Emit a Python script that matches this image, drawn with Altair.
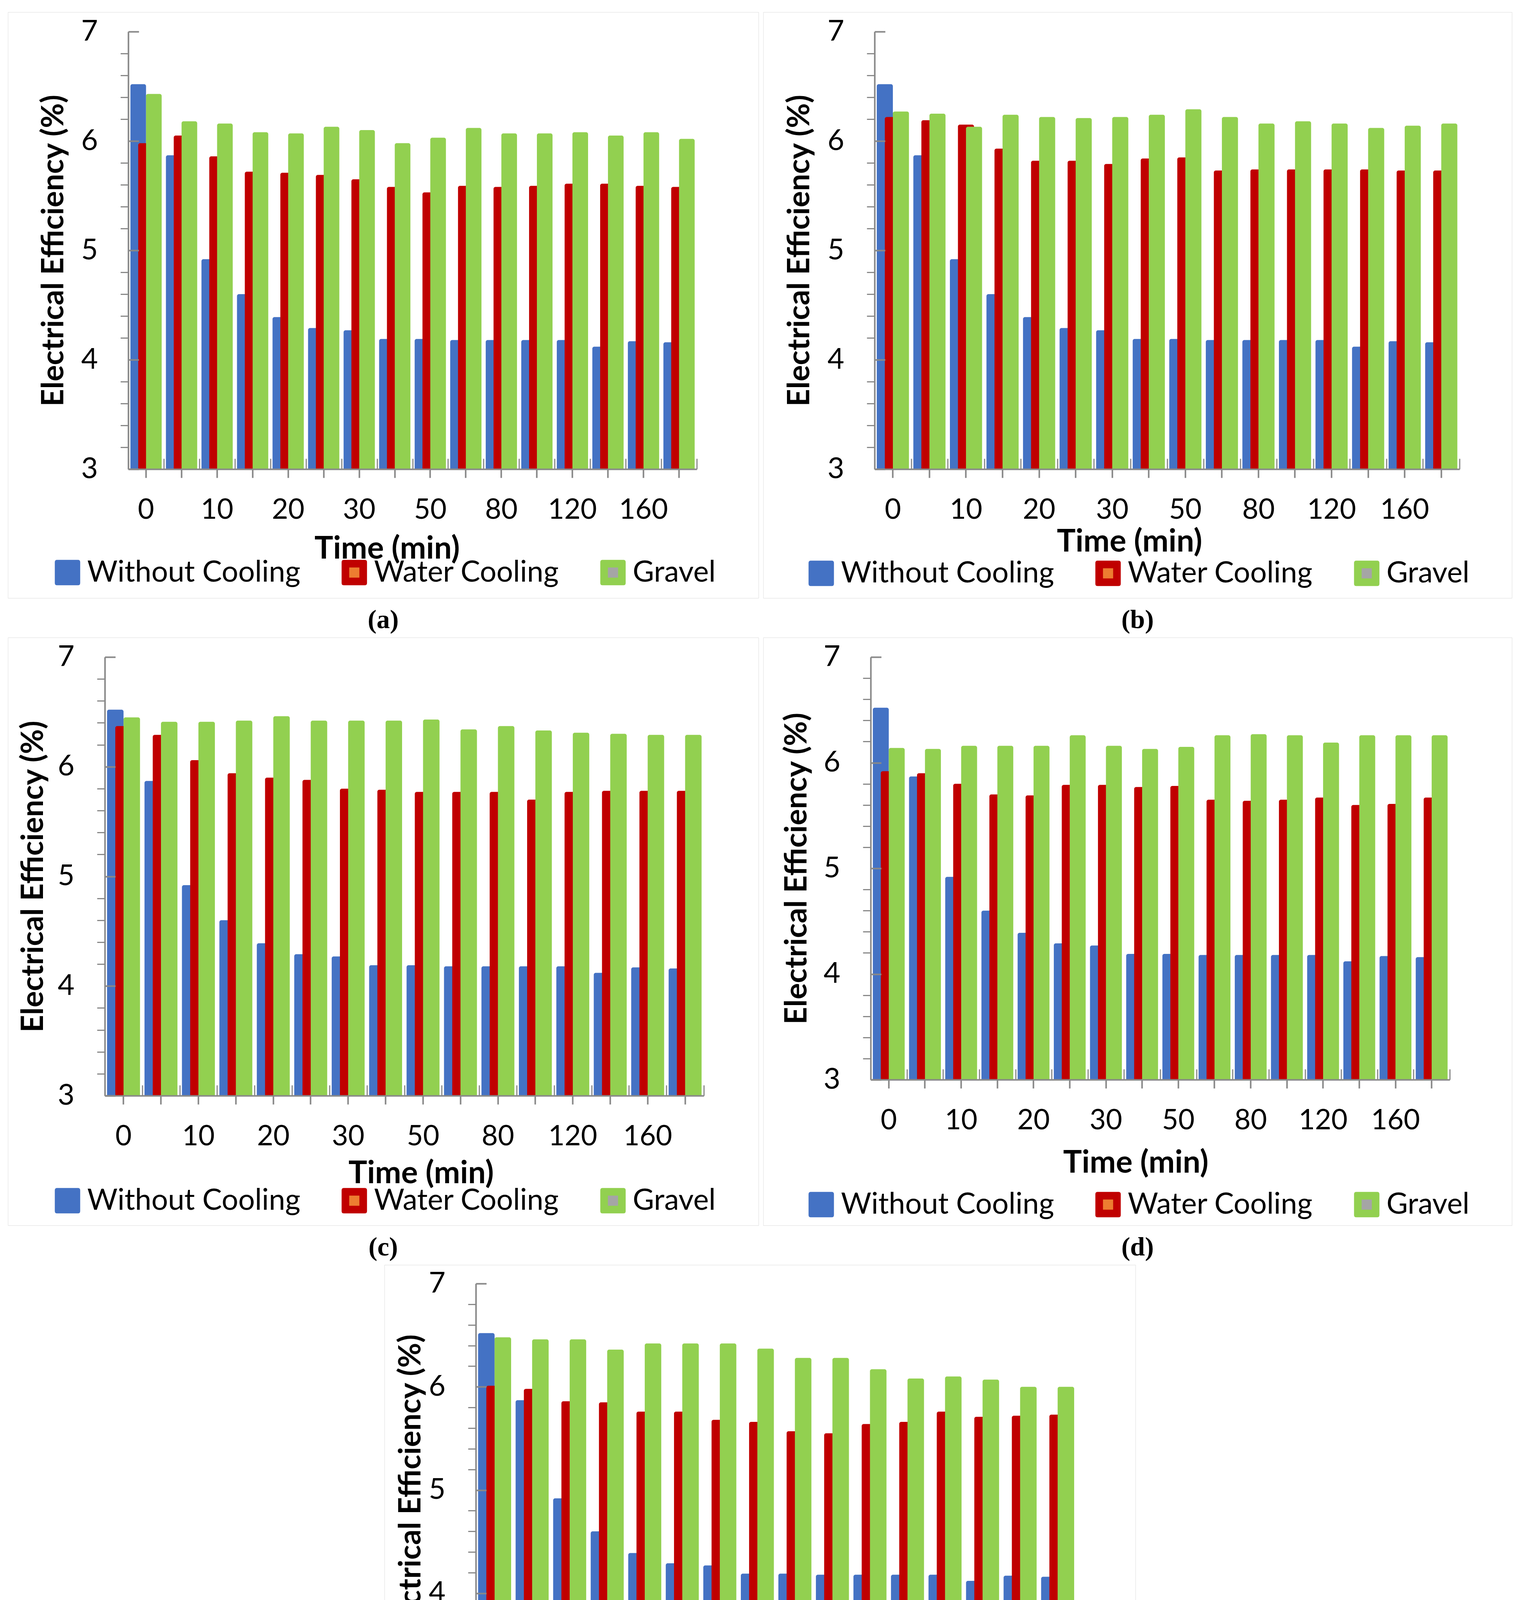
import altair as alt
import pandas as pd

# ---------------- data ----------------
times = ["0", "5", "10", "15", "20", "25", "30", "40", "50", "60", "80", "100", "120", "140", "160", "180"]
shown_labels = ["0", "10", "20", "30", "50", "80", "120", "160"]
series = ["Without Cooling", "Water Cooling", "Gravel"]

without_cooling = [6.52, 5.87, 4.92, 4.60, 4.39, 4.29, 4.27, 4.19, 4.19, 4.18, 4.18, 4.18, 4.18, 4.12, 4.17, 4.16]

water_a = [5.98, 6.05, 5.86, 5.72, 5.71, 5.69, 5.65, 5.58, 5.53, 5.59, 5.58, 5.59, 5.61, 5.61, 5.59, 5.58]
gravel_a = [6.43, 6.18, 6.16, 6.08, 6.07, 6.13, 6.10, 5.98, 6.03, 6.12, 6.07, 6.07, 6.08, 6.05, 6.08, 6.02]

water_b = [6.22, 6.19, 6.15, 5.93, 5.82, 5.82, 5.79, 5.84, 5.85, 5.73, 5.74, 5.74, 5.74, 5.74, 5.73, 5.73]
gravel_b = [6.27, 6.25, 6.13, 6.24, 6.22, 6.21, 6.22, 6.24, 6.29, 6.22, 6.16, 6.18, 6.16, 6.12, 6.14, 6.16]

water_c = [6.37, 6.29, 6.06, 5.94, 5.90, 5.88, 5.80, 5.79, 5.77, 5.77, 5.77, 5.70, 5.77, 5.78, 5.78, 5.78]
gravel_c = [6.45, 6.41, 6.41, 6.42, 6.46, 6.42, 6.42, 6.42, 6.43, 6.34, 6.37, 6.33, 6.31, 6.30, 6.29, 6.29]

water_d = [5.92, 5.90, 5.80, 5.70, 5.69, 5.79, 5.79, 5.77, 5.78, 5.65, 5.64, 5.65, 5.67, 5.60, 5.61, 5.67]
gravel_d = [6.14, 6.13, 6.16, 6.16, 6.16, 6.26, 6.16, 6.13, 6.15, 6.26, 6.27, 6.26, 6.19, 6.26, 6.26, 6.26]

water_e = [6.01, 5.98, 5.86, 5.85, 5.76, 5.76, 5.68, 5.66, 5.57, 5.55, 5.64, 5.66, 5.76, 5.71, 5.72, 5.73]
gravel_e = [6.48, 6.46, 6.46, 6.36, 6.42, 6.42, 6.42, 6.37, 6.28, 6.28, 6.17, 6.08, 6.10, 6.07, 6.00, 6.00]

y_ticks = [round(3 + 0.2 * i, 1) for i in range(21)]
y_major = [3, 4, 5, 6, 7]

# ---------------- style ----------------
FONT = "Lato"
SERIF = "Liberation Serif"
GRAY = "#898989"
BAR_COLORS = ["#4472C4", "#C00000", "#92D050"]
INNER_COLORS = ["transparent", "#ED7D31", "#A5A5A5"]
ROUNDED = "M-1,-0.82 Q-1,-1 -0.82,-1 L0.82,-1 Q1,-1 1,-0.82 L1,0.82 Q1,1 0.82,1 L-0.82,1 Q-1,1 -1,0.82 Z"
INNER = "M-0.4,-0.4 L0.4,-0.4 L0.4,0.4 L-0.4,0.4 Z"

# panel layout (view = framed panel)
geo = {
    "a": dict(w=1921, h=1500, xr=(308, 1763), yr=(1170, 50), ytx=118, xtx=970, xty=204, lx=115, lcy=1435),
    "b": dict(w=1916, h=1500, xr=(285, 1782), yr=(1170, 50), ytx=94, xtx=937, xty=186, lx=111, lcy=1437),
    "c": dict(w=1921, h=1505, xr=(248, 1781), yr=(1173, 50), ytx=66, xtx=1057, xty=199, lx=115, lcy=1442),
    "d": dict(w=1916, h=1505, xr=(275, 1757), yr=(1132, 50), ytx=87, xtx=953, xty=213, lx=111, lcy=1452),
    "e": dict(w=1922, h=1415, xr=(234, 1771), yr=(1105, 48), ytx=69, xtx=903, xty=184, lx=117, lcy=1368),
}

label_list = "[" + ",".join("'" + s + "'" for s in shown_labels) + "]"
LEG_FS = 75
COL_PAD = 100


def panel(key, water, gravel):
    g = geo[key]
    rows = []
    for i, t in enumerate(times):
        for s, v in zip(series, (without_cooling[i], water[i], gravel[i])):
            rows.append({"time": t, "series": s, "marker": s, "eff": v})
    df = pd.DataFrame(rows)

    x0, x1 = g["xr"]
    pitch = (x1 - x0) / len(times)
    bw = 0.44 * pitch
    off = 0.22 * pitch

    x_axis = alt.Axis(
        title="Time (min)", labelAngle=0,
        labelExpr="indexof(" + label_list + ", datum.value) >= 0 ? datum.label : ''",
        labelFont=FONT, labelFontSize=72, labelColor="black", labelPadding=82, labelBaseline="middle",
        tickSize=22, tickWidth=4, tickColor=GRAY, domainColor=GRAY, domainWidth=4,
        offset=-(g["h"] - g["yr"][0]), grid=False, zindex=1,
        titleFont=FONT, titleFontSize=80, titleFontWeight="bold", titleColor="black",
        titleX=g["xtx"], titleY=g["xty"], titleBaseline="middle", titleAlign="center",
    )
    x_axis_bounds = alt.Axis(
        orient="top", tickBand="extent", labels=False, domain=False, tickSize=27, tickWidth=3,
        tickColor=GRAY, title=None, grid=False, offset=-g["yr"][0], zindex=1,
    )
    x_scale = alt.Scale(domain=times, range=[x0, x1], paddingInner=0, paddingOuter=0)
    y_scale = alt.Scale(domain=[3, 7], range=list(g["yr"]), nice=False, zero=False)

    y_axis_left = alt.Axis(
        values=y_ticks, labelExpr="datum.value % 1 == 0 ? format(datum.value, 'd') : ''",
        labelFont=FONT, labelFontSize=74, labelColor="black", labelPadding=58,
        tickSize=20, tickWidth=3, tickColor=GRAY,
        tickOpacity={"condition": {"test": "datum.value % 1 == 0", "value": 0}, "value": 1},
        domainColor=GRAY, domainWidth=4, grid=False, offset=-x0, zindex=1,
        title="Electrical Efficiency (%)", titleFont=FONT, titleFontSize=78, titleFontWeight="bold",
        titleColor="black", titleX=g["ytx"] - x0, titleBaseline="middle", titleAlign="center", titleAngle=270,
    )
    y_axis_right = alt.Axis(
        orient="right", values=y_major, labels=False, domain=False, tickSize=27, tickWidth=4,
        tickColor=GRAY, title=None, grid=False, offset=x0 - g["w"], zindex=1,
    )

    common = dict(
        title=None, orient="none", legendX=g["lx"], legendY=g["lcy"] - 38, direction="horizontal",
        columns=3, columnPadding=COL_PAD, symbolSize=4225, symbolStrokeWidth=0, symbolOpacity=1,
        labelFont=FONT, labelFontSize=LEG_FS, labelOffset=13, labelLimit=2000, padding=0,
    )
    color_legend = alt.Legend(symbolType=ROUNDED, labelColor="black", **common)
    inner_legend = alt.Legend(symbolType=INNER, labelColor="transparent", zindex=1, **common)

    color_enc = alt.Color("series:N", scale=alt.Scale(domain=series, range=BAR_COLORS), legend=color_legend)

    base = alt.Chart(df)
    layers = []
    for si, s in enumerate(series):
        yax = y_axis_left if si == 0 else (y_axis_right if si == 2 else None)
        xax = x_axis if si == 0 else (x_axis_bounds if si == 2 else None)
        layer = base.transform_filter(alt.datum.series == s).mark_bar(
            width=bw, xOffset=(si - 1) * off, cornerRadiusTopLeft=5, cornerRadiusTopRight=5,
        ).encode(
            x=alt.X("time:N", sort=times, scale=x_scale, axis=xax),
            y=alt.Y("eff:Q", scale=y_scale, axis=yax),
            y2=alt.datum(3),
            color=color_enc,
        )
        layers.append(layer)

    # small inner squares of the legend keys (as in the original figure)
    dummy = base.mark_point(filled=True, size=0, opacity=1).encode(
        x=alt.X("time:N", sort=times, scale=x_scale, axis=None),
        y=alt.Y("eff:Q", scale=y_scale, axis=None),
        fill=alt.Fill("marker:N", sort=series, scale=alt.Scale(range=INNER_COLORS), legend=inner_legend),
    )
    layers.append(dummy)

    return alt.layer(*layers).resolve_axis(x="independent", y="independent").properties(
        width=g["w"], height=g["h"],
        title=alt.TitleParams(text="(" + key + ")", orient="bottom", anchor="middle", font=SERIF,
                              fontSize=68, fontWeight="bold", color="black", offset=23),
    )


pa = panel("a", water_a, gravel_a)
pb = panel("b", water_b, gravel_b)
pc = panel("c", water_c, gravel_c)
pd_ = panel("d", water_d, gravel_d)
pe = panel("e", water_e, gravel_e)


def indep(c):
    return c.resolve_scale(x="independent", y="independent", color="independent", fill="independent") \
            .resolve_axis(x="independent", y="independent") \
            .resolve_legend(color="independent", fill="independent")


row1 = indep(alt.hconcat(pa, pb, spacing=10))
row2 = indep(alt.hconcat(pc, pd_, spacing=10))

chart = indep(alt.vconcat(row1, row2, pe, spacing=8, center=True)).properties(
    padding={"left": 11, "top": 22, "right": 2, "bottom": 0}
).configure_view(stroke=GRAY, strokeWidth=3).configure(font=FONT)

chart.save("out.html", embed_options={"renderer": "svg", "actions": False})
